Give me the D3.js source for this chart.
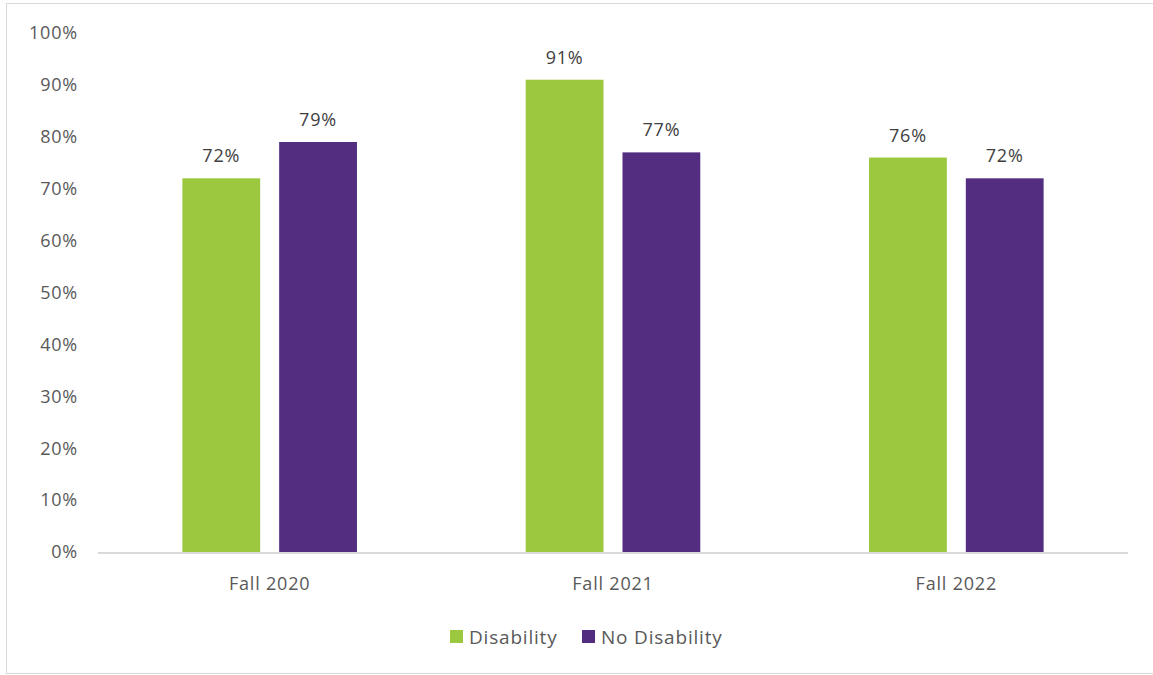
<!DOCTYPE html>
<html>
<head>
<meta charset="utf-8">
<script src="https://cdn.jsdelivr.net/npm/d3@7"></script>
<style>
  body { margin: 0; background: #fff; }
  text { font-family: "Open Sans", "Liberation Sans", sans-serif; fill: #595959; letter-spacing: 0.8px; }
</style>
</head>
<body>
<div class="chart"></div>
<script>
var categories = ["Fall 2020", "Fall 2021", "Fall 2022"];
var seriesNames = ["Disability", "No Disability"];
var disability = [72, 91, 76];
var noDisability = [79, 77, 72];
var yTicks = [0, 10, 20, 30, 40, 50, 60, 70, 80, 90, 100];
var colors = ["#9BC83E", "#522D80"];

var width = 1153, height = 675;
var marginLeft = 98, marginRight = 25, marginTop = 33, marginBottom = 123;

var svg = d3.select('.chart')
  .append('svg')
  .attr("width", width)
  .attr("height", height);

// outer border
svg.append("rect")
  .attr("x", 6.5).attr("y", 3.5)
  .attr("width", width - 5).attr("height", 670)
  .attr("fill", "none")
  .attr("stroke", "#d9d9d9");

var yScale = d3.scaleLinear()
  .domain([0, 100])
  .range([height - marginBottom, marginTop]);

var xScale = d3.scaleBand()
  .domain(categories)
  .range([marginLeft, width - marginRight]);

var innerScale = d3.scaleBand()
  .domain(seriesNames)
  .range([0, xScale.bandwidth()])
  .paddingInner(0.196)
  .paddingOuter(0.872);

var rows = categories.map(function (c, i) {
  return [disability[i], noDisability[i]].map(function (v, j) {
    return { cat: c, series: seriesNames[j], value: v, color: colors[j] };
  });
});

// y tick labels
svg.append("g")
  .selectAll("text")
  .data(yTicks)
  .enter()
  .append("text")
  .attr("x", 78)
  .attr("y", function (d) { return yScale(d); })
  .attr("dy", "0.35em")
  .attr("text-anchor", "end")
  .style("font-size", "18px")
  .text(function (d) { return d + "%"; });

var groups = svg.selectAll(".cat")
  .data(rows)
  .enter()
  .append("g")
  .attr("class", "cat")
  .attr("transform", function (d) { return "translate(" + xScale(d[0].cat) + ",0)"; });

groups.selectAll("rect")
  .data(function (d) { return d; })
  .enter()
  .append("rect")
  .attr("x", function (d) { return innerScale(d.series); })
  .attr("y", function (d) { return yScale(d.value); })
  .attr("width", innerScale.bandwidth())
  .attr("height", function (d) { return yScale(0) - yScale(d.value); })
  .attr("fill", function (d) { return d.color; });

groups.selectAll(".lbl")
  .data(function (d) { return d; })
  .enter()
  .append("text")
  .attr("class", "lbl")
  .attr("x", function (d) { return innerScale(d.series) + innerScale.bandwidth() / 2; })
  .attr("y", function (d) { return yScale(d.value) - 16; })
  .attr("text-anchor", "middle")
  .style("font-size", "18px")
  .style("fill", "#404040")
  .text(function (d) { return d.value + "%"; });

// baseline
svg.append("line")
  .attr("x1", marginLeft).attr("x2", width - marginRight)
  .attr("y1", yScale(0) + 1).attr("y2", yScale(0) + 1)
  .attr("stroke", "#d9d9d9")
  .attr("stroke-width", 2);

// category labels
svg.append("g")
  .selectAll("text")
  .data(categories)
  .enter()
  .append("text")
  .attr("x", function (d) { return xScale(d) + xScale.bandwidth() / 2; })
  .attr("y", yScale(0) + 38)
  .attr("text-anchor", "middle")
  .style("font-size", "18px")
  .text(function (d) { return d; });

// legend
var legendX = [450, 582];
var legend = svg.append("g")
  .selectAll("g")
  .data(seriesNames)
  .enter()
  .append("g")
  .attr("transform", function (d, i) { return "translate(" + legendX[i] + ",630)"; });

legend.append("rect")
  .attr("width", 13).attr("height", 13)
  .attr("fill", function (d, i) { return colors[i]; });

legend.append("text")
  .attr("x", 19)
  .attr("y", 7)
  .attr("dy", "0.35em")
  .style("font-size", "19px")
  .text(function (d) { return d; });
</script>
</body>
</html>
